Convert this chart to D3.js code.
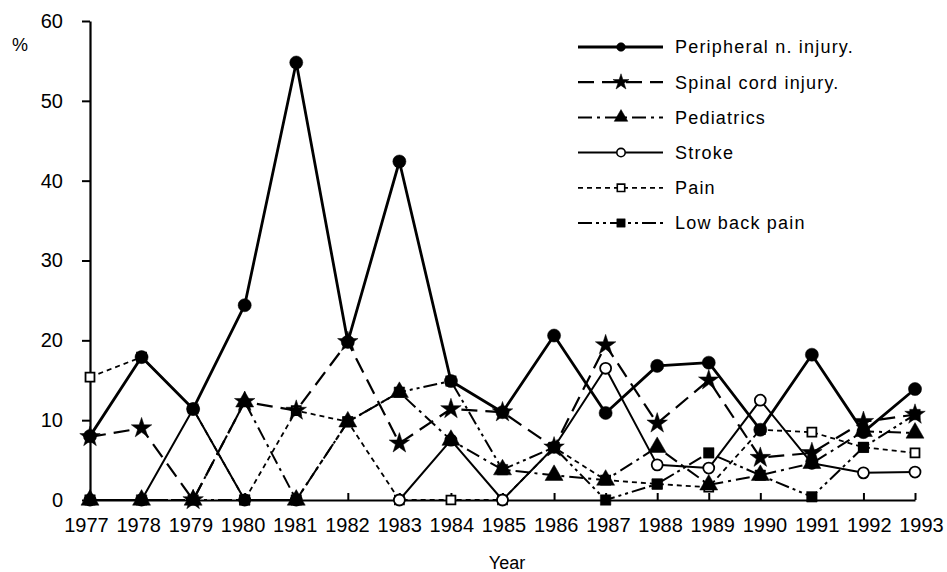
<!DOCTYPE html>
<html>
<head>
<meta charset="utf-8">
<script src="https://cdn.jsdelivr.net/npm/d3@7/dist/d3.min.js"></script>
<style>
  html, body { margin: 0; padding: 0; background: #fff; }
  svg { display: block; }
  text { font-family: "Liberation Sans", Arial, sans-serif; fill: #000; }
</style>
</head>
<body>
<svg id="chart" width="947" height="572"></svg>
<script>
// ---- data ----
const years = [1977,1978,1979,1980,1981,1982,1983,1984,1985,1986,1987,1988,1989,1990,1991,1992,1993];
const peripheral  = [8.0,17.9,11.4,24.4,54.8,19.8,42.4,14.9,11.0,20.6,10.9,16.8,17.2,8.8,18.2,8.5,13.9];
const spinalCord  = [7.9,9.0,0,12.3,11.2,19.8,7.1,11.4,11.0,6.6,19.4,9.6,15.0,5.3,5.9,9.8,10.7];
const pediatrics  = [0,0,0,12.3,0,9.8,13.5,7.5,3.8,3.1,2.5,6.6,1.9,3.1,4.6,8.6,8.4];
const stroke      = [0,0,11.4,0,0,null,0,7.5,0,6.6,16.5,4.4,4.0,12.5,4.6,3.4,3.5];
const pain        = [15.4,17.9,11.4,0,11.2,9.8,0,0,0,6.6,2.5,2.0,1.6,8.8,8.5,6.6,5.9];
const lowBackPain = [0,0,0,0,0,9.8,13.5,14.9,3.8,6.6,0,2.0,5.9,3.1,0.4,6.6,10.7];
const seriesNames = ["Peripheral n. injury.","Spinal cord injury.","Pediatrics","Stroke","Pain","Low back pain"];
const yTicks = [0,10,20,30,40,50,60];
const yTitle = "%";
const xTitle = "Year";

// ---- styles ----
const styles = [
  {values: peripheral,  dash: null,           width: 2.8, sym: d3.symbolCircle,   size: 135, fill: "#000", lsize: 60},
  {values: spinalCord,  dash: "16,8",         width: 2.2, sym: d3.symbolStar,     size: 130, fill: "#000", lsize: 80},
  {values: pediatrics,  dash: "14,5,3,5",     width: 2.0, sym: d3.symbolTriangle, size: 140, fill: "#000", lsize: 80},
  {values: stroke,      dash: null,           width: 2.0, sym: d3.symbolCircle,   size: 95,  fill: "#fff", lsize: 55},
  {values: pain,        dash: "5,4",          width: 1.8, sym: d3.symbolSquare,   size: 80,  fill: "#fff", lsize: 55},
  {values: lowBackPain, dash: "14,4,3,4,3,4", width: 2.0, sym: d3.symbolSquare,   size: 110, fill: "#000", lsize: 70}
];

const svg = d3.select("#chart");
const x = d3.scaleLinear().domain([1977, 1993]).range([90, 915]);
const xLab = d3.scaleLinear().domain([1977, 1993]).range([86, 921]);
const y = d3.scaleLinear().domain([0, 60]).range([500, 21]);

// axes
const yAxis = svg.append("g").attr("transform", "translate(90,0)")
  .call(d3.axisLeft(y).tickValues(yTicks).tickSize(8).tickSizeOuter(0).tickPadding(19));
yAxis.selectAll("text").style("font-size", "20px").attr("font-family", null);
yAxis.select(".domain").attr("stroke-width", 2.2);
yAxis.selectAll(".tick line").attr("stroke-width", 2);

const xAxis = svg.append("g").attr("transform", "translate(0,500)")
  .call(d3.axisTop(x).tickValues(years).tickSize(7).tickSizeOuter(0).tickFormat(""));
xAxis.select(".domain").attr("stroke-width", 2.2);
xAxis.selectAll(".tick line").attr("stroke-width", 2);

const xLabels = svg.append("g").attr("transform", "translate(0,512)")
  .call(d3.axisBottom(xLab).tickValues(years).tickSize(0).tickPadding(6).tickFormat(d3.format("d")));
xLabels.select(".domain").remove();
xLabels.selectAll("text").style("font-size", "20px").attr("font-family", null);

svg.append("text").attr("x", 20).attr("y", 45).attr("text-anchor", "middle")
  .attr("dy", "0.35em").style("font-size", "18px").text(yTitle);
svg.append("text").attr("x", 507).attr("y", 563).attr("text-anchor", "middle")
  .attr("dy", "0.35em").style("font-size", "18px").text(xTitle);

// lines
const line = d3.line().defined(d => d != null).x((d, i) => x(years[i])).y(d => y(d));
const plot = svg.append("g");
styles.slice().reverse().forEach(s => {
  plot.append("path").datum(s.values)
    .attr("d", line).attr("fill", "none").attr("stroke", "#000")
    .attr("stroke-width", s.width).attr("stroke-dasharray", s.dash)
    .attr("stroke-linejoin", "round");
});
// markers: open markers below, filled markers on top
const order = [4, 3, 5, 2, 1, 0];
order.forEach(k => {
  const s = styles[k];
  plot.append("g").selectAll("path").data(s.values.map((v, i) => ({v, i})).filter(d => d.v != null)).join("path")
    .attr("transform", d => `translate(${x(years[d.i])},${y(d.v)})`)
    .attr("d", d3.symbol().type(s.sym).size(s.size))
    .attr("fill", s.fill).attr("stroke", "#000").attr("stroke-width", s.fill === "#fff" ? 1.8 : 0.5);
});

// legend
const legend = svg.append("g");
seriesNames.forEach((name, i) => {
  const s = styles[i];
  const ly = 47 + i * 35.2;
  const g = legend.append("g").attr("transform", `translate(0,${ly})`);
  g.append("line").attr("x1", 578).attr("x2", 663).attr("y1", 0).attr("y2", 0)
    .attr("stroke", "#000").attr("stroke-width", s.width).attr("stroke-dasharray", s.dash);
  g.append("path").attr("transform", "translate(621,0)")
    .attr("d", d3.symbol().type(s.sym).size(s.lsize))
    .attr("fill", s.fill).attr("stroke", "#000").attr("stroke-width", s.fill === "#fff" ? 1.6 : 0.5);
  g.append("text").attr("x", 675).attr("y", 0).attr("dy", "0.35em")
    .style("font-size", "18px").style("letter-spacing", "1.2px").text(name);
});
</script>
</body>
</html>
